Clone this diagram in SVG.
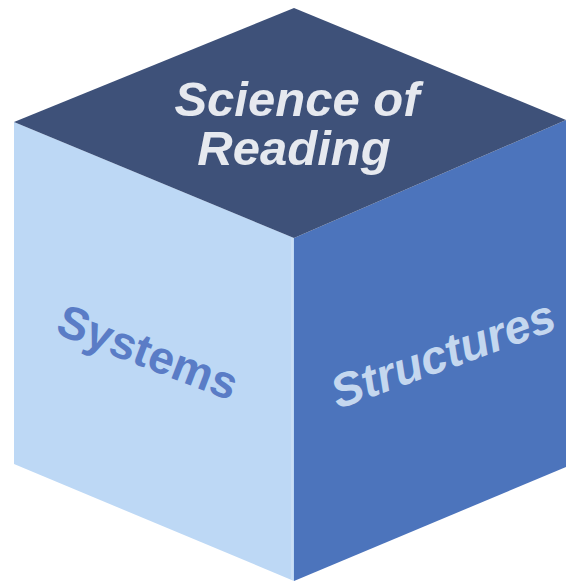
<svg xmlns="http://www.w3.org/2000/svg" width="566" height="587" viewBox="0 0 566 587">
<style>
.lbl{font-family:"Liberation Sans",Arial,sans-serif;font-weight:bold;text-anchor:middle}
</style>
<rect width="566" height="587" fill="#ffffff"/>
<g id="left-face">
<polygon points="14,122 294,238 294,581 14,464" fill="#bdd8f5"/>
<g transform="translate(148,352) rotate(21)"><text class="lbl" x="0" y="16" font-size="46" fill="#5a7cc6">Systems</text></g>
</g>
<g id="right-face">
<polygon points="294,238 566,120 566,467 294,581" fill="#4c74bc"/>
<line x1="292" y1="238" x2="292" y2="580" stroke="#c9def5" stroke-width="2"/>
<g transform="translate(443,354) rotate(-20)"><text class="lbl" x="0" y="16" font-size="47" font-style="italic" fill="#c4d7ef">Structures</text></g>
</g>
<g id="top-face">
<polygon points="294,8 566,120 294,238 14,122" fill="#3e5179"/>
<text class="lbl" x="297" y="116" font-size="49" font-style="italic" fill="#e6e9ef">Science of</text>
<text class="lbl" x="294" y="165" font-size="49" font-style="italic" fill="#e6e9ef">Reading</text>
</g>
<g id="connectors"/>
</svg>
